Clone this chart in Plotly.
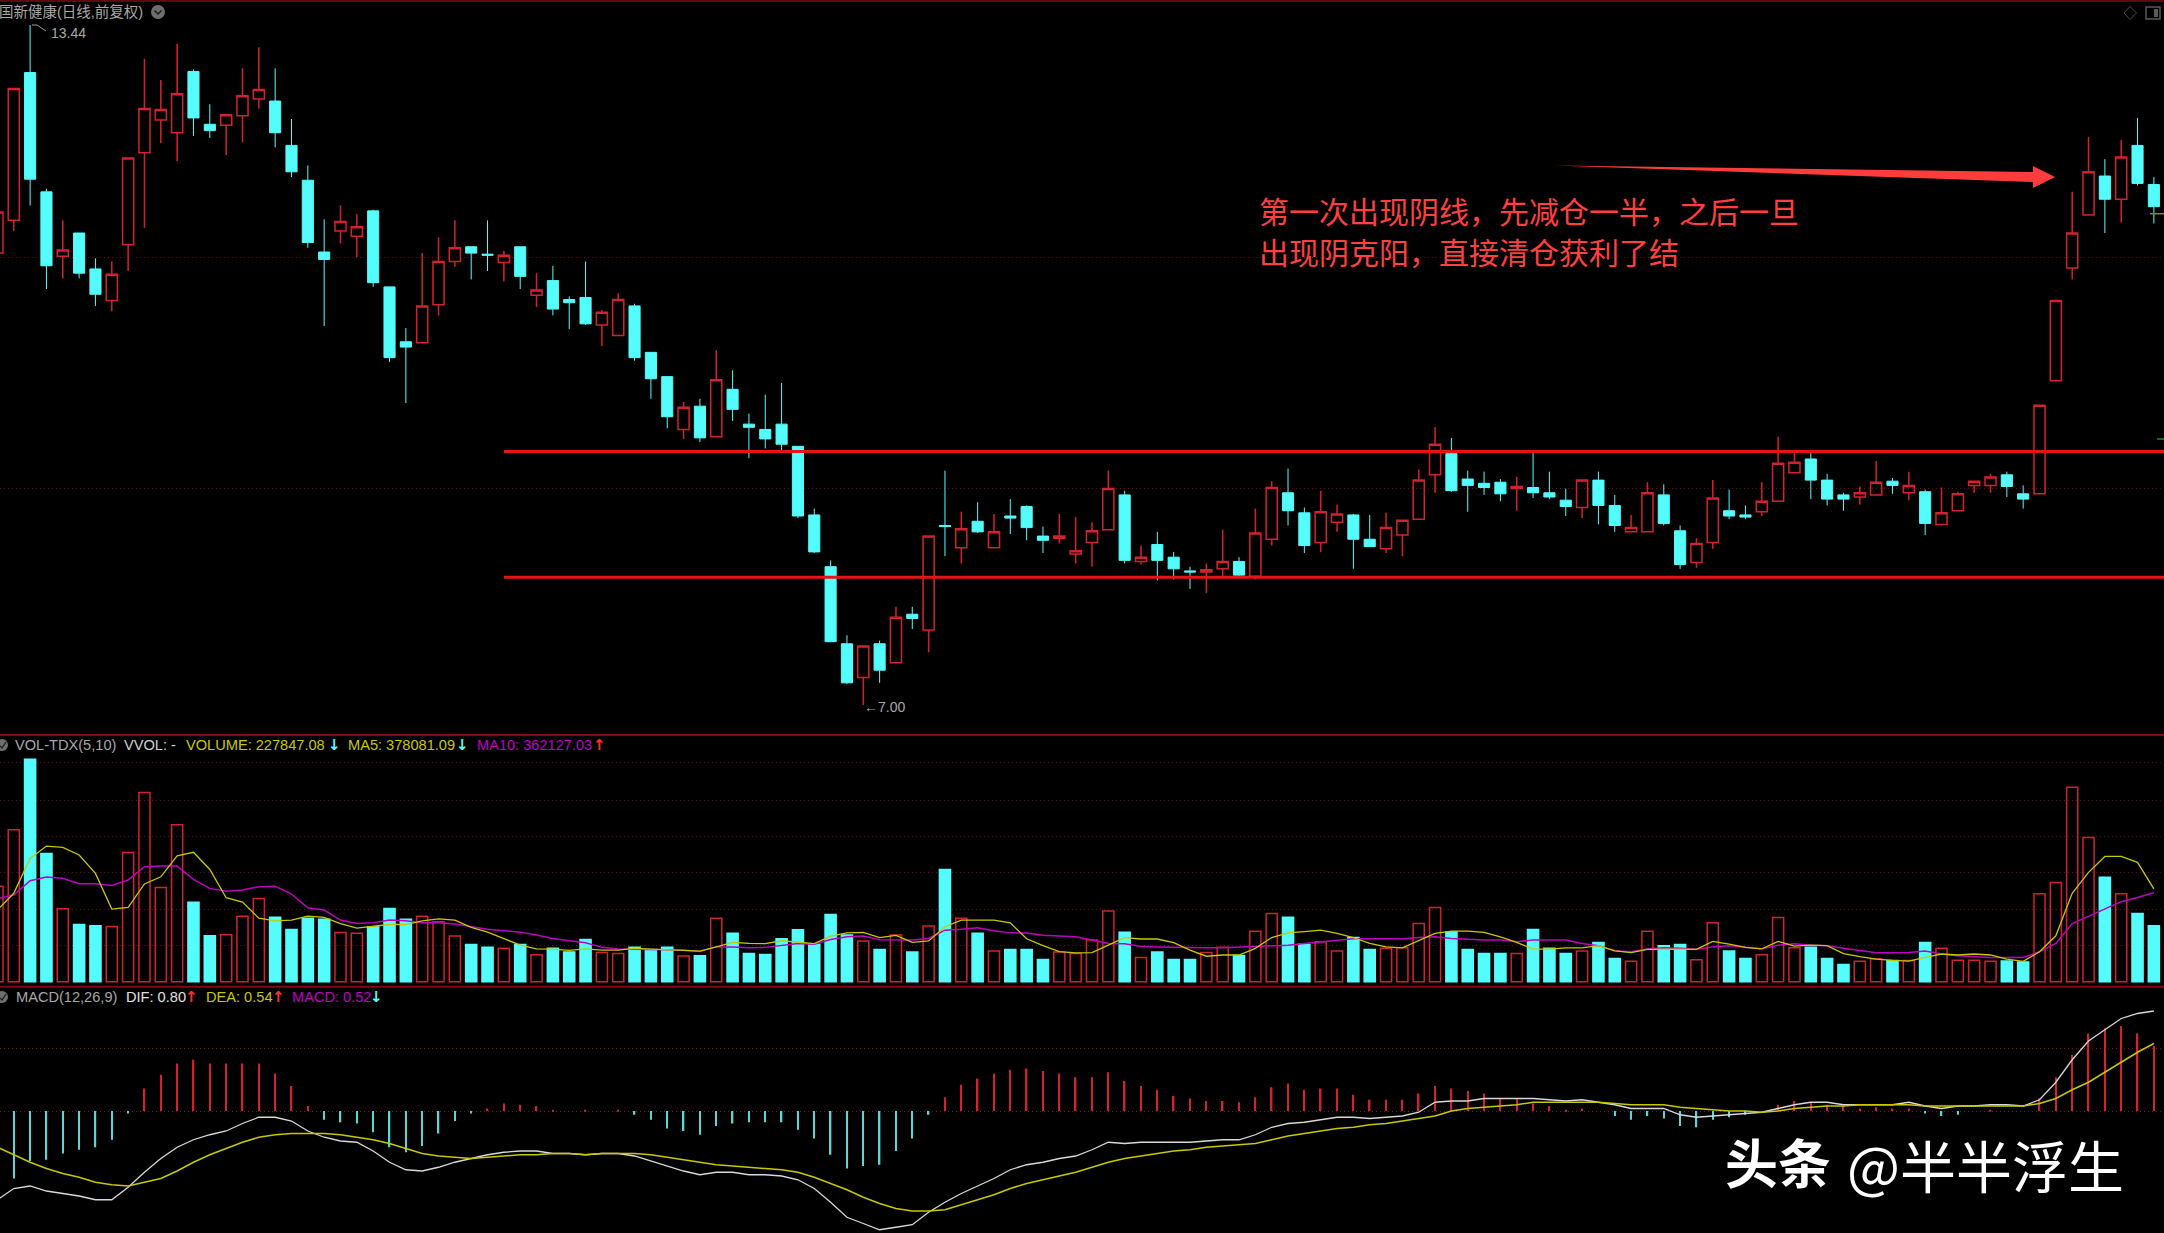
import plotly.graph_objects as go

WIDTH = 2164
HEIGHT = 1233

# daily candles, price in yuan
opens = [
    11.28, 11.59, 12.99, 11.86, 11.25, 11.47, 11.13, 10.83, 11.36, 12.23,
    12.54, 12.42, 13.00, 12.50, 12.49, 12.58, 12.74, 12.72, 12.30, 11.97,
    11.29, 11.49, 11.44, 11.68, 10.96, 10.44, 10.43, 10.79, 11.20, 11.34,
    11.27, 11.19, 11.34, 10.88, 11.02, 10.84, 10.86, 10.60, 10.50, 10.78,
    10.34, 10.11, 9.61, 9.83, 9.54, 9.99, 9.66, 9.61, 9.66, 9.45,
    8.80, 8.31, 7.58, 7.26, 7.58, 7.40, 7.86, 7.71, 8.70, 8.49,
    8.74, 8.49, 8.79, 8.88, 8.60, 8.58, 8.43, 8.54, 8.66, 8.99,
    8.36, 8.52, 8.40, 8.27, 8.26, 8.29, 8.36, 8.22, 8.57, 9.01,
    8.82, 8.54, 8.73, 8.80, 8.57, 8.48, 8.61, 8.76, 9.18, 9.38,
    9.14, 9.10, 9.11, 9.05, 9.06, 9.01, 8.94, 8.87, 9.13, 8.89,
    8.64, 8.64, 8.99, 8.65, 8.35, 8.54, 8.84, 8.80, 8.83, 8.93,
    9.20, 9.33, 9.13, 8.99, 8.97, 8.99, 9.12, 9.01, 9.02, 8.71,
    8.84, 9.08, 9.08, 9.18, 9.00, 9.00, 10.07, 11.14, 11.64, 12.01,
    11.79, 12.30, 11.93,
]
highs = [
    11.78, 12.84, 13.44, 11.89, 11.59, 11.47, 11.23, 11.20, 12.18, 13.12,
    12.92, 13.26, 13.02, 12.69, 12.59, 13.03, 13.23, 13.03, 12.55, 12.11,
    11.60, 11.73, 11.65, 11.69, 10.96, 10.57, 11.28, 11.43, 11.59, 11.34,
    11.59, 11.30, 11.34, 11.09, 11.16, 10.87, 11.20, 10.74, 10.90, 10.80,
    10.34, 10.11, 9.87, 9.90, 10.36, 10.17, 9.76, 9.94, 10.05, 9.45,
    8.86, 8.37, 7.66, 7.56, 7.61, 7.93, 7.93, 8.60, 9.22, 8.83,
    8.92, 8.81, 8.95, 8.89, 8.69, 8.81, 8.78, 8.73, 9.22, 9.03,
    8.51, 8.64, 8.45, 8.31, 8.34, 8.66, 8.40, 8.86, 9.12, 9.24,
    8.87, 9.03, 8.90, 8.81, 8.80, 8.82, 8.75, 9.23, 9.63, 9.53,
    9.22, 9.21, 9.14, 9.16, 9.39, 9.21, 9.05, 9.13, 9.21, 8.99,
    8.80, 9.11, 9.09, 8.70, 8.58, 9.13, 9.04, 8.89, 9.11, 9.54,
    9.40, 9.39, 9.19, 9.01, 9.07, 9.31, 9.15, 9.21, 9.04, 9.06,
    9.02, 9.12, 9.19, 9.21, 9.08, 9.84, 10.83, 11.86, 12.38, 12.17,
    12.35, 12.56, 12.00,
]
lows = [
    11.20, 11.49, 11.73, 10.94, 11.04, 11.04, 10.78, 10.73, 11.11, 11.52,
    12.32, 12.15, 12.39, 12.37, 12.21, 12.33, 12.65, 12.28, 12.00, 11.33,
    10.59, 11.37, 11.24, 10.96, 10.25, 9.86, 10.43, 10.69, 11.15, 11.03,
    11.11, 11.01, 10.94, 10.77, 10.69, 10.56, 10.60, 10.40, 10.50, 10.26,
    9.90, 9.62, 9.52, 9.49, 9.54, 9.69, 9.34, 9.43, 9.40, 8.77,
    8.44, 7.60, 7.20, 7.00, 7.21, 7.39, 7.72, 7.50, 8.41, 8.34,
    8.63, 8.49, 8.62, 8.56, 8.44, 8.53, 8.34, 8.31, 8.66, 8.34,
    8.33, 8.18, 8.19, 8.10, 8.06, 8.22, 8.22, 8.19, 8.51, 8.70,
    8.44, 8.45, 8.64, 8.29, 8.50, 8.44, 8.41, 8.76, 9.01, 9.02,
    8.83, 8.99, 8.93, 8.84, 8.96, 8.95, 8.79, 8.77, 8.71, 8.64,
    8.64, 8.64, 8.70, 8.29, 8.30, 8.48, 8.76, 8.76, 8.79, 8.93,
    9.20, 8.95, 8.89, 8.84, 8.90, 8.99, 9.00, 8.94, 8.61, 8.70,
    8.84, 9.01, 9.01, 8.97, 8.86, 9.00, 10.07, 11.03, 11.64, 11.47,
    11.57, 11.92, 11.56,
]
closes = [
    11.67, 12.84, 11.98, 11.16, 11.31, 11.09, 10.89, 11.08, 12.18, 12.65,
    12.64, 12.79, 12.56, 12.44, 12.59, 12.77, 12.83, 12.42, 12.05, 11.38,
    11.22, 11.58, 11.53, 11.00, 10.29, 10.39, 10.78, 11.20, 11.33, 11.28,
    11.26, 11.26, 11.06, 10.93, 10.75, 10.81, 10.61, 10.72, 10.84, 10.29,
    10.09, 9.73, 9.82, 9.53, 10.08, 9.80, 9.63, 9.52, 9.47, 8.79,
    8.45, 7.60, 7.21, 7.56, 7.33, 7.83, 7.82, 8.60, 8.69, 8.67,
    8.64, 8.64, 8.77, 8.68, 8.56, 8.60, 8.46, 8.65, 9.05, 8.37,
    8.40, 8.37, 8.29, 8.26, 8.28, 8.36, 8.23, 8.63, 9.06, 8.84,
    8.51, 8.83, 8.81, 8.57, 8.50, 8.68, 8.75, 9.13, 9.47, 9.03,
    9.08, 9.06, 9.00, 9.07, 9.01, 8.97, 8.88, 9.13, 8.89, 8.70,
    8.68, 9.01, 8.72, 8.33, 8.53, 8.96, 8.79, 8.78, 8.93, 9.29,
    9.30, 9.13, 8.95, 8.95, 9.01, 9.11, 9.08, 9.08, 8.72, 8.82,
    9.00, 9.12, 9.16, 9.07, 8.95, 9.84, 10.83, 11.47, 12.05, 11.79,
    12.19, 11.94, 11.72,
]

# volume in thousands
volume = [
    389, 619, 905, 522, 297, 233, 228, 225, 526, 770,
    384, 639, 324, 187, 191, 267, 339, 263, 213, 258,
    254, 201, 197, 224, 298, 254, 267, 244, 186, 152,
    141, 136, 152, 110, 136, 121, 172, 119, 115, 141,
    129, 141, 105, 106, 258, 197, 115, 111, 175, 212,
    153, 274, 190, 166, 131, 190, 121, 227, 457, 258,
    197, 125, 131, 131, 91, 121, 115, 170, 288, 202,
    99, 121, 91, 91, 119, 140, 107, 206, 278, 263,
    153, 163, 125, 180, 131, 136, 138, 237, 302, 204,
    131, 115, 115, 115, 213, 136, 115, 125, 160, 95,
    84, 206, 147, 152, 90, 240, 125, 95, 110, 262,
    138, 141, 95, 70, 84, 94, 87, 87, 160, 136,
    88, 88, 84, 85, 80, 358, 404, 791, 587, 425,
    358, 278, 228,
]
ma5 = [
    292, 360, 502, 552, 547, 516, 441, 296, 303, 398,
    427, 512, 527, 457, 342, 324, 259, 248, 251, 267,
    262, 237, 218, 224, 233, 233, 248, 256, 251, 221,
    202, 176, 149, 134, 133, 128, 134, 129, 129, 136,
    133, 130, 125, 125, 142, 160, 156, 155, 167, 161,
    155, 186, 199, 201, 180, 189, 160, 166, 224, 251,
    251, 251, 240, 175, 147, 123, 118, 119, 149, 180,
    174, 174, 159, 129, 104, 109, 109, 136, 180, 199,
    204, 210, 197, 180, 156, 142, 138, 167, 197, 206,
    206, 201, 183, 160, 133, 133, 138, 138, 147, 126,
    119, 132, 134, 133, 132, 164, 153, 140, 134, 164,
    145, 149, 147, 115, 102, 92, 87, 84, 99, 113,
    109, 113, 109, 92, 83, 122, 187, 360, 445, 510,
    510, 486, 378,
]
ma10 = [
    339, 353, 411, 426, 421, 399, 399, 392, 414, 468,
    471, 471, 417, 380, 368, 373, 387, 389, 357, 301,
    292, 251, 237, 240, 251, 248, 240, 240, 235, 224,
    214, 208, 202, 190, 176, 167, 159, 140, 133, 132,
    132, 129, 129, 123, 142, 142, 138, 140, 148, 156,
    153, 172, 183, 186, 171, 170, 170, 176, 210, 214,
    220, 208, 199, 198, 189, 186, 183, 170, 156, 155,
    144, 142, 140, 138, 138, 138, 140, 142, 145, 149,
    156, 163, 167, 175, 175, 175, 175, 180, 183, 176,
    172, 170, 170, 163, 170, 170, 170, 156, 147, 126,
    122, 133, 138, 136, 132, 142, 147, 140, 134, 149,
    155, 149, 147, 136, 126, 118, 118, 119, 125, 113,
    106, 102, 99, 99, 99, 122, 156, 237, 267, 296,
    326, 343, 362,
]
vol_grid = [149, 296, 444, 590, 739, 891]

dif = [
    -0.71, -0.62, -0.60, -0.64, -0.66, -0.68, -0.71, -0.71, -0.61, -0.49,
    -0.38, -0.29, -0.23, -0.19, -0.16, -0.10, -0.05, -0.05, -0.08, -0.16,
    -0.21, -0.24, -0.25, -0.32, -0.41, -0.47, -0.48, -0.45, -0.41, -0.38,
    -0.35, -0.33, -0.32, -0.32, -0.34, -0.34, -0.35, -0.34, -0.34, -0.36,
    -0.40, -0.44, -0.48, -0.51, -0.49, -0.49, -0.51, -0.51, -0.52, -0.55,
    -0.62, -0.73, -0.85, -0.90, -0.95, -0.93, -0.91, -0.81, -0.73, -0.66,
    -0.60, -0.54, -0.47, -0.43, -0.41, -0.38, -0.36, -0.31, -0.25, -0.26,
    -0.25, -0.25, -0.25, -0.25, -0.24, -0.23, -0.23, -0.19, -0.13, -0.10,
    -0.09, -0.07, -0.05, -0.05, -0.06, -0.05, -0.04, -0.01, 0.07, 0.08,
    0.08, 0.10, 0.10, 0.10, 0.10, 0.09, 0.08, 0.09, 0.07, 0.05,
    0.02, 0.02, 0.02, -0.03, -0.05, -0.04, -0.03, -0.02, -0.01, 0.02,
    0.05, 0.07, 0.07, 0.05, 0.05, 0.05, 0.05, 0.07, 0.04, 0.02,
    0.04, 0.04, 0.05, 0.05, 0.04, 0.09, 0.23, 0.41, 0.56, 0.65,
    0.74, 0.78, 0.80,
]
dea = [
    -0.29, -0.35, -0.41, -0.46, -0.50, -0.53, -0.57, -0.59, -0.60, -0.57,
    -0.54, -0.48, -0.41, -0.35, -0.30, -0.25, -0.21, -0.19, -0.18, -0.18,
    -0.18, -0.19, -0.21, -0.23, -0.26, -0.30, -0.34, -0.36, -0.37, -0.38,
    -0.37, -0.36, -0.35, -0.35, -0.34, -0.34, -0.35, -0.34, -0.34, -0.34,
    -0.35, -0.37, -0.39, -0.41, -0.43, -0.44, -0.45, -0.46, -0.47, -0.49,
    -0.53, -0.58, -0.63, -0.69, -0.74, -0.78, -0.80, -0.80, -0.79, -0.75,
    -0.71, -0.67, -0.62, -0.58, -0.55, -0.52, -0.49, -0.45, -0.41, -0.38,
    -0.36, -0.34, -0.32, -0.31, -0.29, -0.28, -0.27, -0.26, -0.23, -0.20,
    -0.18, -0.16, -0.14, -0.13, -0.11, -0.10, -0.08, -0.06, -0.04, 0.00,
    0.02, 0.03, 0.04, 0.05, 0.07, 0.07, 0.07, 0.07, 0.07, 0.06,
    0.05, 0.05, 0.05, 0.03, 0.02, 0.01, 0.00, 0.00, -0.01, 0.00,
    0.02, 0.03, 0.04, 0.04, 0.05, 0.05, 0.05, 0.05, 0.04, 0.04,
    0.04, 0.04, 0.04, 0.04, 0.04, 0.06, 0.10, 0.17, 0.23, 0.31,
    0.39, 0.47, 0.54,
]
macd = [
    -0.53, -0.54, -0.40, -0.39, -0.34, -0.31, -0.29, -0.23, -0.02, 0.18,
    0.29, 0.38, 0.41, 0.38, 0.38, 0.38, 0.38, 0.30, 0.20, 0.04,
    -0.07, -0.09, -0.10, -0.17, -0.29, -0.33, -0.28, -0.18, -0.08, -0.02,
    0.02, 0.06, 0.05, 0.04, 0.01, 0.00, 0.005, 0.00, 0.01, -0.03,
    -0.07, -0.14, -0.16, -0.19, -0.12, -0.10, -0.09, -0.09, -0.09, -0.15,
    -0.22, -0.35, -0.46, -0.44, -0.43, -0.32, -0.22, -0.03, 0.11, 0.21,
    0.26, 0.30, 0.33, 0.34, 0.32, 0.30, 0.27, 0.27, 0.31, 0.24,
    0.20, 0.17, 0.12, 0.10, 0.08, 0.08, 0.07, 0.11, 0.19, 0.22,
    0.17, 0.18, 0.18, 0.13, 0.09, 0.09, 0.09, 0.14, 0.20, 0.18,
    0.16, 0.14, 0.10, 0.10, 0.06, 0.04, 0.01, 0.02, 0.00, -0.04,
    -0.07, -0.04, -0.06, -0.12, -0.13, -0.07, -0.05, -0.03, 0.00, 0.05,
    0.08, 0.07, 0.05, 0.04, 0.02, 0.03, 0.02, 0.02, -0.02, -0.04,
    -0.03, 0.00, 0.005, 0.00, 0.00, 0.10, 0.27, 0.45, 0.62, 0.66,
    0.68, 0.62, 0.52,
]
macd_grid = [0, 0.5]

price_grid = [11.24, 9.05]
support_lines = [9.40, 8.21]

days = list(range(len(closes)))

RED = "#d2222f"
CYAN = "#54fcfc"
GRID = "#6a0a0a"
BORDER = "#7d0b10"
YELLOW = "#c8c800"
MAGENTA = "#c000c0"
GREY = "#a8a8a8"
LATIN = "Liberation Sans, Noto Sans CJK SC"
CJK = "Noto Sans CJK SC"
GRID_DASH = "1px,3px"
LEGEND_SIZE = 14.6


def px_x(x):
    return x / WIDTH


def px_y(y):
    return 1 - y / HEIGHT


def label(text, x, y, color, size=LEGEND_SIZE, family=LATIN, xanchor="left"):
    return dict(text=text, x=px_x(x), y=px_y(y), xref="paper", yref="paper", showarrow=False,
                xanchor=xanchor, yanchor="middle", font=dict(color=color, size=size, family=family))


def pane_line(y, color=BORDER, width=2):
    return dict(type="line", xref="paper", yref="paper", x0=0, x1=1, y0=px_y(y), y1=px_y(y),
                line=dict(color=color, width=width))


def tick(x0, x1, y, color):
    return dict(type="line", xref="paper", yref="paper", x0=px_x(x0), x1=px_x(x1), y0=px_y(y), y1=px_y(y),
                line=dict(color=color, width=1.5))


def disc(x, y, r=6, color="#6e6e6e"):
    return dict(type="circle", xref="paper", yref="paper", fillcolor=color, line=dict(width=0),
                x0=px_x(x - r), x1=px_x(x + r), y0=px_y(y + r), y1=px_y(y - r))


def paper_path(points, fill=None, line=None, width=1):
    path = "M " + " L ".join(f"{px_x(x):.5f},{px_y(y):.5f}" for x, y in points)
    if fill:
        path += " Z"
    return dict(type="path", xref="paper", yref="paper", path=path, fillcolor=fill,
                line=dict(color=line or fill, width=width if line else 0))


def arrow_label(char, x, y, color):
    return label(f"<b>{char}</b>", x, y, color, 15, "DejaVu Sans", "center")


fig = go.Figure()

fig.add_trace(go.Candlestick(
    x=days, open=opens, high=highs, low=lows, close=closes, yaxis="y",
    increasing=dict(line=dict(color=RED, width=1.5), fillcolor="rgba(0,0,0,0)"),
    decreasing=dict(line=dict(color=CYAN, width=1), fillcolor=CYAN),
    whiskerwidth=0, hoverinfo="skip",
))

up = [c >= o for o, c in zip(opens, closes)]
fig.add_trace(go.Bar(
    x=days, y=volume, yaxis="y2", width=0.68,
    marker=dict(color=["rgba(0,0,0,0)" if u else CYAN for u in up],
                line=dict(color=[RED if u else CYAN for u in up], width=1.5)),
    hoverinfo="skip",
))
fig.add_trace(go.Scatter(x=days, y=ma10, yaxis="y2", mode="lines", line=dict(color=MAGENTA, width=1.5), hoverinfo="skip"))
fig.add_trace(go.Scatter(x=days, y=ma5, yaxis="y2", mode="lines", line=dict(color=YELLOW, width=1.3), hoverinfo="skip"))

fig.add_trace(go.Bar(
    x=days, y=macd, yaxis="y3", width=0.09,
    marker=dict(color=[RED if m > 0 else "#54d8d8" for m in macd], line=dict(width=0)),
    hoverinfo="skip",
))
fig.add_trace(go.Scatter(x=days, y=dif, yaxis="y3", mode="lines", line=dict(color="#d8d8d8", width=1.3), hoverinfo="skip"))
fig.add_trace(go.Scatter(x=days, y=dea, yaxis="y3", mode="lines", line=dict(color=YELLOW, width=1.5), hoverinfo="skip"))

shapes = [pane_line(1, "#5e0a0a"), pane_line(735), pane_line(986.7)]

# the two hand drawn levels
for level in support_lines:
    shapes.append(dict(type="line", xref="x", yref="y", x0=31, x1=133, y0=level, y1=level,
                       line=dict(color="#e81414", width=3)))

# hand drawn arrow
shapes.append(paper_path([(1555, 165.5), (2033, 172), (2033, 166), (2055, 177), (2033, 188), (2033, 182)],
                         fill="#ff3c3c"))

# window furniture
shapes.append(paper_path([(2124, 13), (2130, 6.5), (2136.5, 13), (2130, 19.5)], fill="rgba(0,0,0,0)", line="#4c4c4c"))
shapes.append(dict(type="rect", xref="paper", yref="paper", x0=px_x(2146), x1=px_x(2160), y0=px_y(19), y1=px_y(7),
                   line=dict(color="#5a5a5a", width=1.5), fillcolor="#000"))
shapes.append(dict(type="rect", xref="paper", yref="paper", x0=px_x(2154), x1=px_x(2158), y0=px_y(17), y1=px_y(9),
                   line=dict(width=0), fillcolor="#5a5a5a"))
shapes.append(disc(158, 12, 7))
shapes.append(paper_path([(154.5, 10.5), (158, 14), (161.5, 10.5)], line="#1c1c1c", width=1.5))
for y in [745, 997]:
    shapes.append(disc(2, y, 6))
    shapes.append(paper_path([(-1, y), (2, y + 3), (6, y - 3)], line="#1c1c1c", width=1.2))

# 13.44 leader and the short marks at the right edge
shapes.append(paper_path([(32, 25), (37, 25), (46, 31)], line="#a0a0a0", width=1))
shapes.append(tick(2150, 2164, 213.7, "#8a8a20"))
shapes.append(tick(2157, 2164, 439, "#1f8a1f"))

annotations = [
    label("国新健康(日线,前复权)", -3, 12, GREY, 14.5),
    label("13.44", 49, 33, GREY, 14),
    label("←7.00", 862, 707, GREY, 14),
    label("VOL-TDX(5,10)", 13, 745, GREY),
    label("VVOL: -", 122, 745, "#d0d0d0"),
    label("VOLUME: 227847.08", 184, 745, YELLOW),
    arrow_label("↓", 334, 745, CYAN),
    label("MA5: 378081.09", 346, 745, YELLOW),
    arrow_label("↓", 462, 745, CYAN),
    label("MA10: 362127.03", 475, 745, MAGENTA),
    arrow_label("↑", 599, 745, "#ff3030"),
    label("MACD(12,26,9)", 14, 997, GREY),
    label("DIF: 0.80", 124, 997, "#e0e0e0"),
    arrow_label("↑", 191, 997, "#ff3030"),
    label("DEA: 0.54", 204, 997, YELLOW),
    arrow_label("↑", 278, 997, "#ff3030"),
    label("MACD: 0.52", 290, 997, MAGENTA),
    arrow_label("↓", 376, 997, CYAN),
    label("第一次出现阴线，先减仓一半，之后一旦", 1257, 210, "#ff4040", 30, CJK),
    label("出现阴克阳，直接清仓获利了结", 1257, 251, "#ff4040", 30, CJK),
    label("<b>头条</b>", 1723, 1161, "#ffffff", 53, CJK),
    label("@半半浮生", 1845, 1163, "#ffffff", 56, CJK),
]

fig.update_layout(
    width=WIDTH, height=HEIGHT, margin=dict(l=0, r=0, t=0, b=0),
    paper_bgcolor="#000000", plot_bgcolor="#000000",
    showlegend=False, barmode="overlay", boxgap=0.32, boxgroupgap=0,
    xaxis=dict(range=[0.157, 132.62], visible=False, rangeslider=dict(visible=False), fixedrange=True),
    yaxis=dict(domain=[1 - 735 / HEIGHT, 1], range=[6.716, 13.677], showticklabels=False, ticks="",
               tickvals=price_grid, gridcolor=GRID, griddash=GRID_DASH, gridwidth=1, zeroline=False, fixedrange=True),
    yaxis2=dict(domain=[1 - 986.7 / HEIGHT, 1 - 735 / HEIGHT], range=[-20, 1004], showticklabels=False, ticks="",
                tickvals=vol_grid, gridcolor=GRID, griddash=GRID_DASH, gridwidth=1, zeroline=False, fixedrange=True),
    yaxis3=dict(domain=[0, 1 - 986.7 / HEIGHT], range=[-0.976, 0.9944], showticklabels=False, ticks="",
                tickvals=macd_grid, gridcolor="#900c10", griddash=GRID_DASH, gridwidth=1, zeroline=False, fixedrange=True),
    shapes=shapes, annotations=annotations,
)

fig.write_html("out.html", config=dict(displayModeBar=False),
               post_script="document.body.style.margin='0';document.body.style.background='#000';document.body.style.overflow='hidden';")
